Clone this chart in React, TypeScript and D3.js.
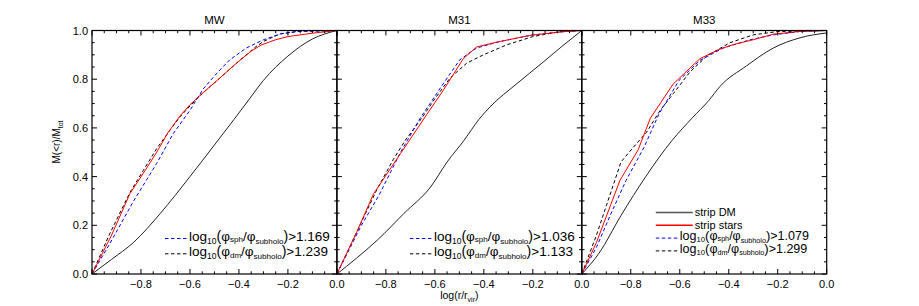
import { useEffect, useRef } from "react";
import * as d3 from "d3";

type Pt = [number, number];

const panelNames = ["MW", "M31", "M33"];
const xTicks = [-0.8, -0.6, -0.4, -0.2, 0.0];
const yTicks = [0, 0.2, 0.4, 0.6, 0.8, 1.0];
const sphThresholds = ["1.169", "1.036", "1.079"];
const dmThresholds = ["1.239", "1.133", "1.299"];

// MW
const mwStripDm: Pt[] = [[-1, 0], [-0.92, 0.06], [-0.83, 0.13], [-0.72, 0.25], [-0.6, 0.40], [-0.5, 0.53], [-0.42, 0.635], [-0.36, 0.715], [-0.3, 0.795], [-0.2, 0.895], [-0.1, 0.965], [0, 1.0]];
const mwStripStars: Pt[] = [[-1, 0], [-0.92, 0.16], [-0.845, 0.33], [-0.78, 0.43], [-0.736, 0.5], [-0.69, 0.58], [-0.64, 0.65], [-0.6, 0.695], [-0.546, 0.745], [-0.5, 0.785], [-0.45, 0.83], [-0.41, 0.866], [-0.35, 0.915], [-0.31, 0.94], [-0.25, 0.962], [-0.2, 0.975], [-0.1, 0.989], [0, 1.0]];
const mwSphCut: Pt[] = [[-1, 0], [-0.93, 0.12], [-0.83, 0.30], [-0.736, 0.454], [-0.668, 0.577], [-0.6, 0.672], [-0.546, 0.76], [-0.49, 0.825], [-0.437, 0.88], [-0.37, 0.928], [-0.3, 0.962], [-0.23, 0.986], [-0.15, 0.997], [0, 1.0]];
const mwDmCut: Pt[] = [[-1, 0], [-0.93, 0.16], [-0.845, 0.335], [-0.79, 0.426], [-0.736, 0.515], [-0.682, 0.59], [-0.641, 0.645], [-0.6, 0.69], [-0.546, 0.745], [-0.5, 0.785], [-0.41, 0.866], [-0.33, 0.934], [-0.3, 0.955], [-0.233, 0.986], [-0.164, 0.996], [0, 1.0]];

// M31
const m31StripDm: Pt[] = [[-1, 0], [-0.92, 0.065], [-0.835, 0.139], [-0.726, 0.249], [-0.617, 0.358], [-0.55, 0.46], [-0.48, 0.55], [-0.42, 0.635], [-0.375, 0.686], [-0.266, 0.781], [-0.158, 0.87], [-0.076, 0.939], [0, 1.0]];
const m31StripStars: Pt[] = [[-1, 0], [-0.92, 0.17], [-0.85, 0.33], [-0.74, 0.495], [-0.633, 0.655], [-0.566, 0.754], [-0.484, 0.884], [-0.43, 0.932], [-0.348, 0.952], [-0.212, 0.98], [-0.076, 0.995], [0, 1.0]];
const m31SphCut: Pt[] = [[-1, 0], [-0.9, 0.2], [-0.83, 0.32], [-0.74, 0.50], [-0.66, 0.64], [-0.62, 0.70], [-0.56, 0.79], [-0.498, 0.88], [-0.43, 0.928], [-0.334, 0.955], [-0.198, 0.982], [-0.06, 0.997], [0, 1.0]];
const m31DmCut: Pt[] = [[-1, 0], [-0.92, 0.17], [-0.84, 0.34], [-0.77, 0.47], [-0.72, 0.55], [-0.65, 0.645], [-0.6, 0.72], [-0.538, 0.805], [-0.47, 0.866], [-0.402, 0.9], [-0.307, 0.941], [-0.2, 0.975], [-0.09, 0.995], [0, 1.0]];

// M33
const m33StripDm: Pt[] = [[-1, 0], [-0.93, 0.085], [-0.84, 0.24], [-0.739, 0.40], [-0.631, 0.549], [-0.55, 0.64], [-0.481, 0.713], [-0.436, 0.77], [-0.327, 0.855], [-0.218, 0.928], [-0.109, 0.97], [0, 0.99]];
const m33StripStars: Pt[] = [[-1, 0], [-0.94, 0.13], [-0.844, 0.385], [-0.77, 0.51], [-0.72, 0.64], [-0.627, 0.78], [-0.518, 0.884], [-0.44, 0.922], [-0.382, 0.942], [-0.3, 0.962], [-0.218, 0.985], [-0.1, 0.997], [0, 1.0]];
const m33SphCut: Pt[] = [[-1, 0], [-0.94, 0.11], [-0.88, 0.25], [-0.82, 0.383], [-0.746, 0.52], [-0.685, 0.657], [-0.603, 0.795], [-0.518, 0.877], [-0.423, 0.928], [-0.313, 0.962], [-0.218, 0.982], [-0.109, 0.996], [0, 1.0]];
const m33DmCut: Pt[] = [[-1, 0], [-0.94, 0.16], [-0.9, 0.28], [-0.84, 0.46], [-0.79, 0.52], [-0.735, 0.583], [-0.68, 0.672], [-0.627, 0.74], [-0.558, 0.83], [-0.49, 0.895], [-0.395, 0.95], [-0.3, 0.982], [-0.2, 0.996], [0, 1.0]];

const stripDm = [mwStripDm, m31StripDm, m33StripDm];
const stripStars = [mwStripStars, m31StripStars, m33StripStars];
const sphCut = [mwSphCut, m31SphCut, m33SphCut];
const dmCut = [mwDmCut, m31DmCut, m33DmCut];

const W = 919;
const H = 306;
const FONT = "'Liberation Sans', Arial, Helvetica, sans-serif";

export default function App() {
  const svgRef = useRef<SVGSVGElement>(null);

  useEffect(() => {
    if (!svgRef.current) return;
    const svg = d3.select(svgRef.current);
    svg.selectAll("*").remove();

    const left0 = 92;
    const right0 = 826.7;
    const pw = (right0 - left0) / 3;
    const top = 30.5;
    const bottom = 274;

    const y = d3.scaleLinear().domain([0, 1]).range([bottom, top]);
    const minor = d3.range(0, 1.0001, 0.05);

    svg.append("rect").attr("width", W).attr("height", H).attr("fill", "white");

    panelNames.forEach((name, p) => {
      const x0 = left0 + p * pw;
      const x = d3.scaleLinear().domain([-1, 0]).range([x0, x0 + pw]);
      const g = svg.append("g");

      const line = d3.line<Pt>().x(d => x(d[0])).y(d => y(d[1]));
      const smooth = d3.line<Pt>().x(d => x(d[0])).y(d => y(d[1])).curve(d3.curveMonotoneX);

      // curves
      g.append("path").attr("d", smooth(stripDm[p])).attr("fill", "none")
        .attr("stroke", "#222").attr("stroke-width", 1);
      g.append("path").attr("d", line(dmCut[p])).attr("fill", "none")
        .attr("stroke", "#000").attr("stroke-width", 1).attr("stroke-dasharray", "3.5,2.5");
      g.append("path").attr("d", line(sphCut[p])).attr("fill", "none")
        .attr("stroke", "#0000ff").attr("stroke-width", 1).attr("stroke-dasharray", "3.5,2.5");
      g.append("path").attr("d", line(stripStars[p])).attr("fill", "none")
        .attr("stroke", "#ff0000").attr("stroke-width", 1);

      // frame
      g.append("rect").attr("x", x0).attr("y", top).attr("width", pw).attr("height", bottom - top)
        .attr("fill", "none").attr("stroke", "#000").attr("stroke-width", 1.2);

      // x ticks (top & bottom, inward)
      d3.range(-1, 0.0001, 0.05).forEach(v => {
        const isMajor = Math.abs(Math.round(v * 5) - v * 5) < 1e-6;
        const len = isMajor ? 5 : 2.7;
        const xx = x(v);
        g.append("line").attr("x1", xx).attr("x2", xx).attr("y1", bottom).attr("y2", bottom - len)
          .attr("stroke", "#000").attr("stroke-width", 1);
        g.append("line").attr("x1", xx).attr("x2", xx).attr("y1", top).attr("y2", top + len)
          .attr("stroke", "#000").attr("stroke-width", 1);
      });
      // y ticks (left & right, inward)
      minor.forEach(v => {
        const isMajor = Math.abs(Math.round(v * 5) - v * 5) < 1e-6;
        const len = isMajor ? 5 : 2.7;
        const yy = y(v);
        g.append("line").attr("x1", x0).attr("x2", x0 + len).attr("y1", yy).attr("y2", yy)
          .attr("stroke", "#000").attr("stroke-width", 1);
        g.append("line").attr("x1", x0 + pw).attr("x2", x0 + pw - len).attr("y1", yy).attr("y2", yy)
          .attr("stroke", "#000").attr("stroke-width", 1);
      });

      // x tick labels
      xTicks.forEach(v => {
        g.append("text").attr("x", x(v)).attr("y", 288)
          .attr("text-anchor", "middle").attr("font-size", 11).style("font-family", FONT)
          .text(d3.format(".1f")(v).replace("-", "\u2212"));
      });

      // title
      g.append("text").attr("x", x0 + pw / 2).attr("y", 24)
        .attr("text-anchor", "middle").attr("font-size", 11.5).style("font-family", FONT)
        .text(name);

      // legend
      const entries: { kind: string; label: string }[] = [];
      if (p === 2) {
        entries.push({ kind: "dm", label: "strip DM" });
        entries.push({ kind: "stars", label: "strip stars" });
      }
      entries.push({ kind: "sph", label: sphThresholds[p] });
      entries.push({ kind: "dmcut", label: dmThresholds[p] });

      const rowH = p === 2 ? 12.8 : 15.3;
      const firstY = p === 2 ? 212.5 : 238.5;
      const lx0 = p === 2 ? x0 + 74 : x0 + 73;
      const fs = p === 2 ? 12.5 : 13.5;
      const sub = p === 2 ? 7.2 : 8;
      const shift = p === 2 ? 2.5 : 3.5;

      entries.forEach((e, i) => {
        const ly = firstY + i * rowH;
        if (e.kind === "dm" || e.kind === "stars") {
          g.append("line").attr("x1", lx0).attr("x2", lx0 + 37).attr("y1", ly).attr("y2", ly)
            .attr("stroke", e.kind === "dm" ? "#555" : "#ff0000").attr("stroke-width", 1.4);
          g.append("text").attr("x", lx0 + 39).attr("y", ly + 3.5).attr("font-size", 11)
            .style("font-family", FONT).text(e.label);
        } else {
          g.append("line").attr("x1", lx0).attr("x2", lx0 + 23).attr("y1", ly).attr("y2", ly)
            .attr("stroke", e.kind === "sph" ? "#0000ff" : "#000").attr("stroke-width", 1)
            .attr("stroke-dasharray", "3.5,2.5");
          const t = g.append("text").attr("x", lx0 + 24).attr("y", ly + 2).attr("font-size", fs)
            .style("font-family", FONT);
          t.append("tspan").text("log");
          t.append("tspan").attr("font-size", sub + 0.5).attr("dy", shift - 0.5).text("10");
          t.append("tspan").attr("font-size", fs * 1.05).attr("dy", -(shift - 0.5)).text("(");
          t.append("tspan").text("\u03c6");
          const d1 = e.kind === "sph" ? 1 : 2;
          t.append("tspan").attr("font-size", sub).attr("dy", d1).text(e.kind === "sph" ? "sph" : "dm");
          t.append("tspan").attr("dy", -d1).text("/\u03c6");
          t.append("tspan").attr("font-size", sub).attr("dy", shift).text("subholo");
          t.append("tspan").attr("font-size", fs * 1.05).attr("dy", -shift).text(")");
          t.append("tspan").text(">" + e.label);
        }
      });
    });

    // y tick labels on the first panel
    yTicks.forEach(v => {
      svg.append("text").attr("x", 88).attr("y", y(v) + 4)
        .attr("text-anchor", "end").attr("font-size", 11).style("font-family", FONT)
        .text(d3.format(".1f")(v));
    });

    // y label
    const yl = svg.append("text")
      .attr("transform", `translate(60,142) rotate(-90)`)
      .attr("text-anchor", "middle").attr("font-size", 10).style("font-family", FONT);
    yl.append("tspan").text("M(<r)/M");
    yl.append("tspan").attr("font-size", 7).attr("dy", 2.5).text("tot");

    // x label
    const xl = svg.append("text")
      .attr("x", left0 + pw * 1.5).attr("y", 299)
      .attr("text-anchor", "middle").attr("font-size", 10.5).style("font-family", FONT);
    xl.append("tspan").text("log(r/r");
    xl.append("tspan").attr("font-size", 7).attr("dy", 2.5).text("vir");
    xl.append("tspan").attr("dy", -2.5).text(")");
  }, []);

  return (
    <svg
      ref={svgRef}
      width={W}
      height={H}
      style={{ position: "absolute", left: 0, top: 0, display: "block" }}
    />
  );
}
